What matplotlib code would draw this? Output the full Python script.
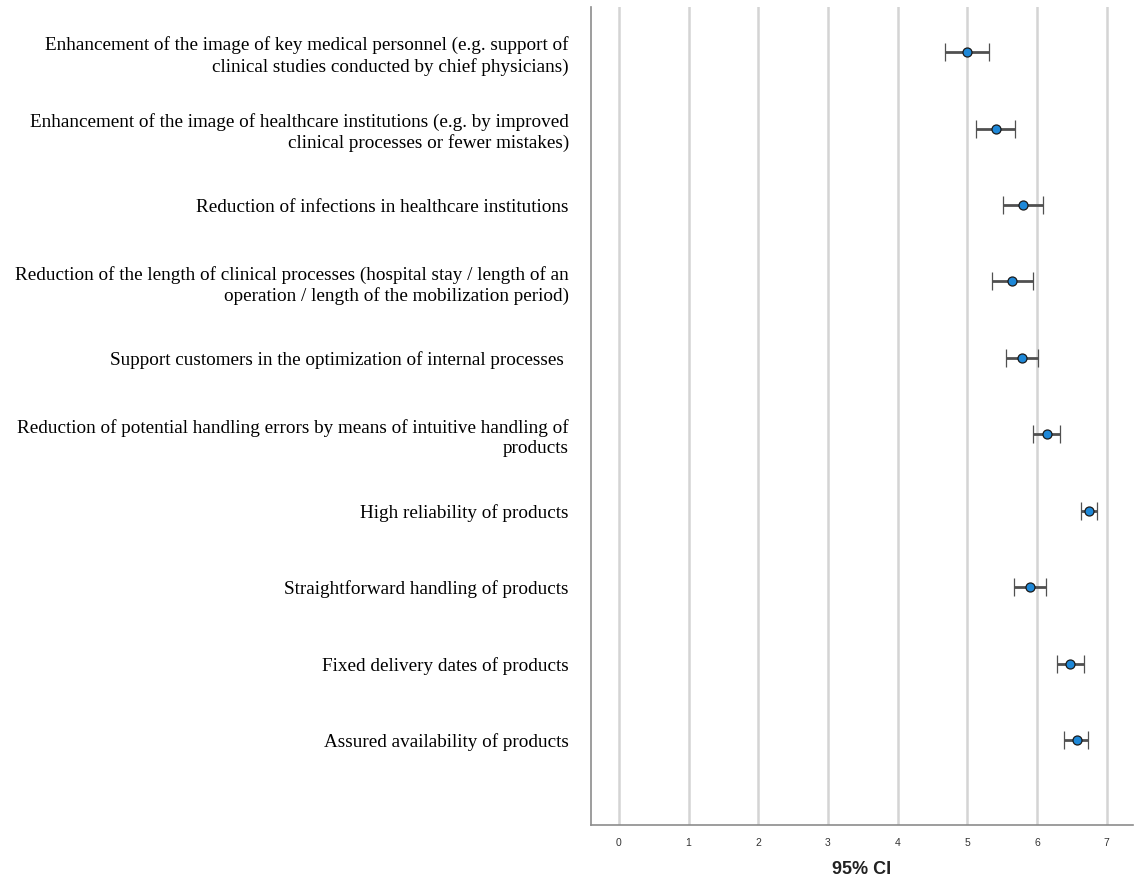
import matplotlib.pyplot as plt
import numpy as np

# items, top to bottom
labels = [
    "Enhancement of the image of key medical personnel (e.g. support of\nclinical studies conducted by chief physicians)",
    "Enhancement of the image of healthcare institutions (e.g. by improved\nclinical processes or fewer mistakes)",
    "Reduction of infections in healthcare institutions",
    "Reduction of the length of clinical processes (hospital stay / length of an\noperation / length of the mobilization period)",
    "Support customers in the optimization of internal processes ",
    "Reduction of potential handling errors by means of intuitive handling of\nproducts",
    "High reliability of products",
    "Straightforward handling of products",
    "Fixed delivery dates of products",
    "Assured availability of products",
]
means = [5.00, 5.41, 5.80, 5.65, 5.79, 6.14, 6.75, 5.90, 6.48, 6.57]
ci_low = [4.68, 5.13, 5.51, 5.36, 5.56, 5.95, 6.63, 5.67, 6.29, 6.39]
ci_high = [5.31, 5.69, 6.09, 5.94, 6.01, 6.33, 6.87, 6.13, 6.67, 6.74]
xticks = [0, 1, 2, 3, 4, 5, 6, 7]

means = np.array(means)
err = np.array([means - np.array(ci_low), np.array(ci_high) - means])
ypos = np.arange(1, len(labels) + 1)

fig = plt.figure(figsize=(11.37, 8.8), dpi=100)
ax = fig.add_axes([0.5198, 0.0625, 0.4767, 0.9295])

# vertical grid
for t in xticks:
    ax.axvline(t, color='#d4d4d4', lw=1.8, zorder=0)

ax.errorbar(means, ypos, xerr=err, fmt='o', color='#505050', ecolor='#505050',
            elinewidth=2.0, capsize=6.8, capthick=2.0,
            markerfacecolor='#1e88d8', markeredgecolor='#1a1a1a',
            markeredgewidth=0.9, markersize=6.5, zorder=3)

ax.set_xlim(-0.40, 7.38)
ax.set_ylim(11.11, 0.41)

ax.set_yticks(ypos)
ax.set_yticklabels(labels, fontfamily='Liberation Serif', fontsize=13.8,
                   multialignment='right', linespacing=1.25)
ax.tick_params(axis='y', length=0, pad=16)

ax.set_xticks(xticks)
ax.set_xticklabels([str(t) for t in xticks], fontsize=7.5, color='#333333',
                   fontfamily='Liberation Sans')
ax.tick_params(axis='x', length=0, pad=9)

fig.text(0.5198 + 0.4767 * (3.49 + 0.40) / 7.78, 1 - 869 / 880, '95% CI',
         ha='center', va='center', fontsize=13, fontweight='bold',
         color='#222222', fontfamily='Liberation Sans')

for s in ['top', 'right']:
    ax.spines[s].set_visible(False)
for s in ['left', 'bottom']:
    ax.spines[s].set_color('#8c8c8c')
    ax.spines[s].set_linewidth(1.2)

fig.savefig('out.png', dpi=100)
